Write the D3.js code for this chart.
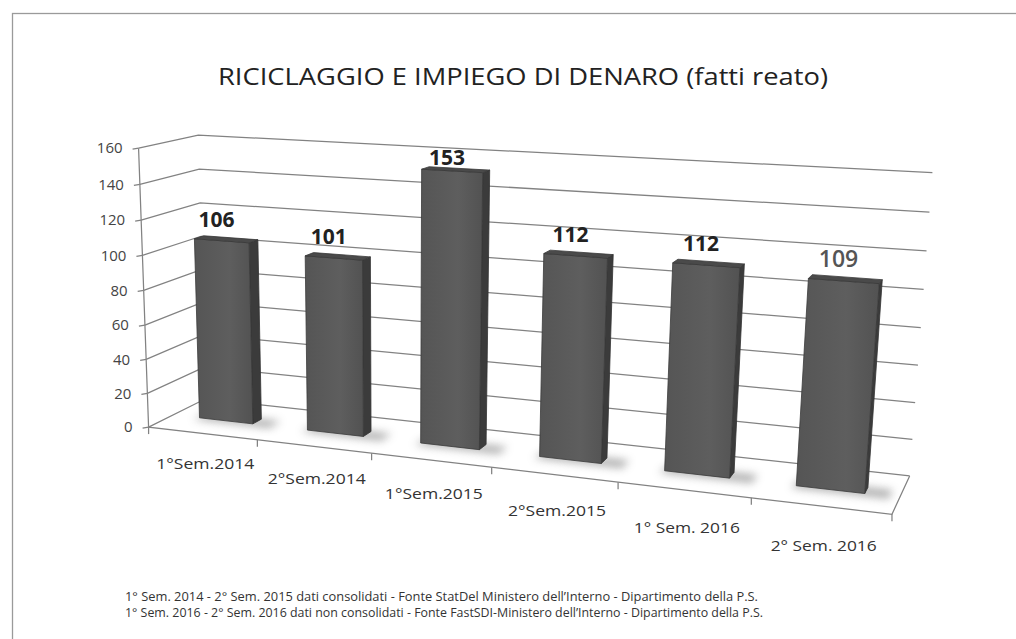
<!DOCTYPE html>
<html><head><meta charset="utf-8">
<script src="https://cdn.jsdelivr.net/npm/d3@7"></script>
<style>body{margin:0;background:#fff}</style>
</head><body>
<svg id="chart" width="1016" height="639"></svg>
<script>
// ---- data ----
const categories = ["1°Sem.2014", "2°Sem.2014", "1°Sem.2015", "2°Sem.2015", "1° Sem. 2016", "2° Sem. 2016"];
const values = [106, 101, 153, 112, 112, 109];
const yTicks = [0, 20, 40, 60, 80, 100, 120, 140, 160];
const title = "RICICLAGGIO E IMPIEGO DI DENARO (fatti reato)";
const notes = [
  "1° Sem. 2014 - 2° Sem. 2015 dati consolidati - Fonte StatDel Ministero dell’Interno - Dipartimento della P.S.",
  "1° Sem. 2016 - 2° Sem. 2016 dati non consolidati - Fonte FastSDI-Ministero dell’Interno - Dipartimento della P.S."
];

// ---- 3D plot box ----
// World space: x across the categories [0,1], y = value [0,1], z = depth (0 front, 1 back).
// Screen positions of the box corners; a 3x4 projective camera is solved from them.
const boxAnchors = [
  [0, 0, 0, 152, 424], [0, 1, 0, 135, 149], [1, 0, 0, 892, 517],
  [0, 0, 1, 202, 402], [0, 1, 1, 202, 134], [1, 1, 1, 932, 173], [1, 0, 1, 910, 473]
];
const barDepth = [0.42, 0.58];
// vertical offset of each value label above its bar (px)
const labelOffset = [14, 14, 6, 14, 14, 14];

function solveCamera(pts) {
  const A = [], b = [];
  pts.forEach(([X, Y, Z, u, v]) => {
    A.push([X, Y, Z, 1, 0, 0, 0, 0, -u * X, -u * Y, -u * Z]); b.push(u);
    A.push([0, 0, 0, 0, X, Y, Z, 1, -v * X, -v * Y, -v * Z]); b.push(v);
  });
  const n = 11;
  const M = Array.from({length: n}, (_, i) => {
    const row = new Array(n + 1).fill(0);
    for (let j = 0; j < n; j++) for (let k = 0; k < A.length; k++) row[j] += A[k][i] * A[k][j];
    for (let k = 0; k < A.length; k++) row[n] += A[k][i] * b[k];
    return row;
  });
  for (let c = 0; c < n; c++) {
    let p = c;
    for (let r = c + 1; r < n; r++) if (Math.abs(M[r][c]) > Math.abs(M[p][c])) p = r;
    [M[c], M[p]] = [M[p], M[c]];
    for (let r = 0; r < n; r++) {
      if (r === c) continue;
      const f = M[r][c] / M[c][c];
      for (let k = c; k <= n; k++) M[r][k] -= f * M[c][k];
    }
  }
  return M.map((row, i) => row[n] / row[i]);
}
const P = solveCamera(boxAnchors);
function project(x, y, z) {
  const w = P[8] * x + P[9] * y + P[10] * z + 1;
  return [(P[0] * x + P[1] * y + P[2] * z + P[3]) / w, (P[4] * x + P[5] * y + P[6] * z + P[7]) / w];
}

const xScale = d3.scaleBand().domain(categories).range([0, 1]).paddingInner(0.5).paddingOuter(0.25);
const yScale = d3.scaleLinear().domain([0, 160]).range([0, 1]);

const svg = d3.select("#chart");
const line = d3.line();
const poly = pts => "M" + pts.map(p => p.join(",")).join("L") + "Z";

const defs = svg.append("defs");
defs.append("filter").attr("id", "soft").attr("x", "-50%").attr("y", "-50%").attr("width", "200%").attr("height", "200%")
  .append("feGaussianBlur").attr("stdDeviation", 4);
const frontGrad = defs.append("linearGradient").attr("id", "frontFace");
frontGrad.append("stop").attr("offset", "0%").attr("stop-color", "#555");
frontGrad.append("stop").attr("offset", "60%").attr("stop-color", "#5e5e5e");
frontGrad.append("stop").attr("offset", "100%").attr("stop-color", "#525252");

// outer frame
svg.append("rect").attr("x", 12.5).attr("y", 13.5).attr("width", 1010).attr("height", 640)
  .attr("fill", "#fff").attr("stroke", "#9a9a9a").attr("stroke-width", 1.3);

// title
svg.append("text").attr("x", 523).attr("y", 85).attr("text-anchor", "middle")
  .attr("font-family", "'Open Sans', Lato, sans-serif").attr("font-size", 24).attr("fill", "#222")
  .attr("textLength", 610).attr("lengthAdjust", "spacingAndGlyphs").text(title);

const grid = svg.append("g").attr("stroke", "#828282").attr("stroke-width", 1.25).attr("fill", "none");
yTicks.forEach(t => {
  const v = yScale(t);
  // side wall and back wall gridlines
  grid.append("path").attr("d", line([project(0, v, 0), project(0, v, 1), project(1, v, 1)]));
  // axis tick
  const a = project(0, v, 0);
  grid.append("path").attr("d", line([[a[0] - 6, a[1] + 1], a]));
});
// value axis and floor outline
grid.append("path").attr("d", line([project(0, 1, 0), project(0, 0, 0), project(1, 0, 0), project(1, 0, 1)]));
// category boundary ticks on the floor front edge
d3.range(categories.length + 1).forEach(i => {
  const bx = i / categories.length;
  const a = project(bx, 0, 0);
  grid.append("path").attr("d", line([a, [a[0], a[1] + 7]]));
});

// tick labels
svg.append("g").selectAll("text").data(yTicks).join("text")
  .attr("x", d => project(0, yScale(d), 0)[0] - 16)
  .attr("y", d => project(0, yScale(d), 0)[1])
  .attr("dy", "0.35em").attr("text-anchor", "end")
  .attr("font-family", "'Open Sans', Lato, sans-serif").attr("font-size", 15).attr("fill", "#444")
  .text(d => d);

// category labels
svg.append("g").selectAll("text").data(categories).join("text")
  .attr("x", d => project(xScale(d) + xScale.bandwidth() / 2, 0, 0)[0] + 3)
  .attr("y", (d, i) => project(xScale(d) + xScale.bandwidth() / 2, 0, 0)[1] + 30 + 2 * i)
  .attr("dy", "0.35em").attr("text-anchor", "middle")
  .attr("font-family", "'Open Sans', Lato, sans-serif").attr("font-size", 15).attr("fill", "#333")
  .attr("textLength", d => d.length > 10 ? 106 : 98).attr("lengthAdjust", "spacingAndGlyphs")
  .text(d => d);

// bars
const bars = svg.append("g");
const [z0, z1] = barDepth;
categories.forEach((c, i) => {
  const x0 = xScale(c), x1 = x0 + xScale.bandwidth(), h = yScale(values[i]);
  const g = bars.append("g");
  // soft floor shadow
  g.append("path").attr("filter", "url(#soft)").attr("fill", "#8c8c8c").attr("opacity", 0.7)
    .attr("d", poly([project(x0 - 0.005, 0, z0 - 0.06), project(x1 + 0.03, 0, z0 - 0.06), project(x1 + 0.03, 0, z1), project(x0, 0, z1)]));
  const front = [project(x0, 0, z0), project(x1, 0, z0), project(x1, h, z0), project(x0, h, z0)];
  const side = [project(x1, 0, z0), project(x1, 0, z1), project(x1, h, z1), project(x1, h, z0)];
  const top = [project(x0, h, z0), project(x1, h, z0), project(x1, h, z1), project(x0, h, z1)];
  g.append("path").attr("d", poly(side)).attr("fill", "#3b3b3b").attr("stroke", "#333").attr("stroke-width", 0.8);
  g.append("path").attr("d", poly(front)).attr("fill", "url(#frontFace)").attr("stroke", "#3a3a3a").attr("stroke-width", 0.8);
  g.append("path").attr("d", poly(top)).attr("fill", "#4a4a4a").attr("stroke", "#3a3a3a").attr("stroke-width", 0.8);
  // value label
  const lp = project((x0 + x1) / 2, h, z0);
  const last = i === categories.length - 1;
  svg.append("text").attr("x", lp[0] - 5).attr("y", lp[1] - labelOffset[i]).attr("text-anchor", "middle")
    .attr("font-family", "'Open Sans', Lato, sans-serif")
    .attr("font-weight", last ? "600" : "bold")
    .attr("font-size", last ? 23 : 21).attr("fill", last ? "#555" : "#222")
    .text(values[i]);
});

// source notes
svg.append("g").selectAll("text").data(notes).join("text")
  .attr("x", 125).attr("y", (d, i) => 601 + i * 16)
  .attr("font-family", "'Open Sans', Lato, sans-serif").attr("font-size", 12).attr("fill", "#333")
  .attr("textLength", (d, i) => i ? 638 : 633).attr("lengthAdjust", "spacingAndGlyphs")
  .text(d => d);
</script>
</body></html>
